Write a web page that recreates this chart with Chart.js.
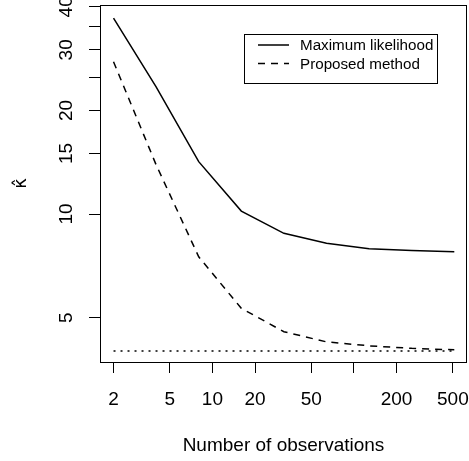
<!DOCTYPE html>
<html>
<head>
<meta charset="utf-8">
<script src="https://cdn.jsdelivr.net/npm/chart.js"></script>
<style>
  html, body { margin: 0; padding: 0; background: #fff; }
</style>
</head>
<body>
<canvas id="kappaChart" width="469" height="461"></canvas>
<script>
// Data
const nObs = [2, 4, 8, 16, 32, 64, 128, 256, 512];
const maxLikelihood = [37.1, 23.4, 14.2, 10.2, 8.79, 8.22, 7.93, 7.83, 7.77];
const proposedMethod = [27.7, 13.9, 7.51, 5.32, 4.55, 4.25, 4.14, 4.07, 4.03];
const trueKappa = [4, 4, 4, 4, 4, 4, 4, 4, 4];

const xTicks = [2, 5, 10, 20, 50, 100, 200, 500];
const xTickLabels = ['2', '5', '10', '20', '50', '', '200', '500'];
const yTicks = [5, 10, 15, 20, 25, 30, 35, 40];
const yTickLabels = ['5', '10', '15', '20', '', '30', '', '40'];

const FONT = 'Liberation Sans, Arial, sans-serif';

function toPoints(values) {
  return nObs.map((n, i) => ({ x: n, y: values[i] }));
}

// Draws the R-style box around the plot and the legend inside it
const boxAndLegend = {
  id: 'boxAndLegend',
  afterDraw(chart) {
    const { ctx, chartArea: a } = chart;
    ctx.save();
    ctx.strokeStyle = '#000';
    ctx.lineWidth = 1;
    ctx.setLineDash([]);
    ctx.strokeRect(a.left + 0.5, a.top + 0.5, a.right - a.left - 1, a.bottom - a.top);

    // legend
    ctx.strokeRect(244.5, 34.5, 193, 49);
    const rows = chart.data.datasets.filter(d => d.label);
    rows.forEach((ds, i) => {
      const y = 45 + i * 18.5;
      ctx.lineWidth = ds.borderWidth;
      ctx.setLineDash(ds.borderDash || []);
      ctx.beginPath();
      ctx.moveTo(258, y);
      ctx.lineTo(289, y);
      ctx.stroke();
      ctx.setLineDash([]);
      ctx.fillStyle = '#000';
      ctx.font = '15.2px ' + FONT;
      ctx.textBaseline = 'middle';
      ctx.textAlign = 'left';
      ctx.fillText(ds.label, 300, y + 1);
    });
    ctx.restore();
  }
};

const ctx = document.getElementById('kappaChart').getContext('2d');
new Chart(ctx, {
  type: 'scatter',
  data: {
    datasets: [
      {
        label: 'Maximum likelihood',
        data: toPoints(maxLikelihood),
        showLine: true,
        borderColor: '#000',
        borderWidth: 1.5,
        pointRadius: 0,
        tension: 0
      },
      {
        label: 'Proposed method',
        data: toPoints(proposedMethod),
        showLine: true,
        borderColor: '#000',
        borderWidth: 1.5,
        borderDash: [7, 6],
        pointRadius: 0,
        tension: 0
      },
      {
        label: '',
        data: toPoints(trueKappa),
        showLine: true,
        borderColor: '#000',
        borderWidth: 1.5,
        borderDash: [2, 5],
        pointRadius: 0,
        tension: 0
      }
    ]
  },
  options: {
    responsive: false,
    animation: false,
    devicePixelRatio: 1,
    layout: { padding: { top: 5, right: 2, left: 0, bottom: 0 } },
    plugins: {
      legend: { display: false },
      tooltip: { enabled: false }
    },
    scales: {
      x: {
        type: 'logarithmic',
        min: 1.605,
        max: 629.5,
        bounds: 'data',
        afterBuildTicks: scale => { scale.ticks = xTicks.map(v => ({ value: v })); },
        afterFit: scale => {
          scale.height = 99;
          scale.paddingLeft = 0;
          scale.paddingRight = 0;
        },
        grid: { display: true, drawOnChartArea: false, drawTicks: true, tickLength: 11, color: '#000', lineWidth: 1 },
        border: { display: false },
        ticks: {
          autoSkip: false,
          maxRotation: 0,
          minRotation: 0,
          padding: 15,
          color: '#000',
          font: { family: FONT, size: 19 },
          callback: value => xTickLabels[xTicks.indexOf(value)]
        },
        title: {
          display: true,
          text: 'Number of observations',
          color: '#000',
          font: { family: FONT, size: 19 },
          padding: { top: 0, bottom: 4 }
        }
      },
      y: {
        type: 'logarithmic',
        min: 3.715,
        max: 40.5,
        bounds: 'data',
        afterBuildTicks: scale => { scale.ticks = yTicks.map(v => ({ value: v })); },
        afterFit: scale => {
          scale.width = 100;
          scale.paddingTop = 0;
          scale.paddingBottom = 0;
        },
        grid: { display: true, drawOnChartArea: false, drawTicks: true, tickLength: 11, color: '#000', lineWidth: 1 },
        border: { display: false },
        ticks: {
          autoSkip: false,
          minRotation: 90,
          maxRotation: 90,
          crossAlign: 'center',
          padding: 12,
          color: '#000',
          font: { family: FONT, size: 19 },
          callback: value => yTickLabels[yTicks.indexOf(value)]
        },
        title: {
          display: true,
          text: 'κ̂',
          color: '#000',
          font: { family: 'DejaVu Sans', size: 18 },
          padding: { top: 11, bottom: 0 }
        }
      }
    }
  },
  plugins: [boxAndLegend]
});
</script>
</body>
</html>
